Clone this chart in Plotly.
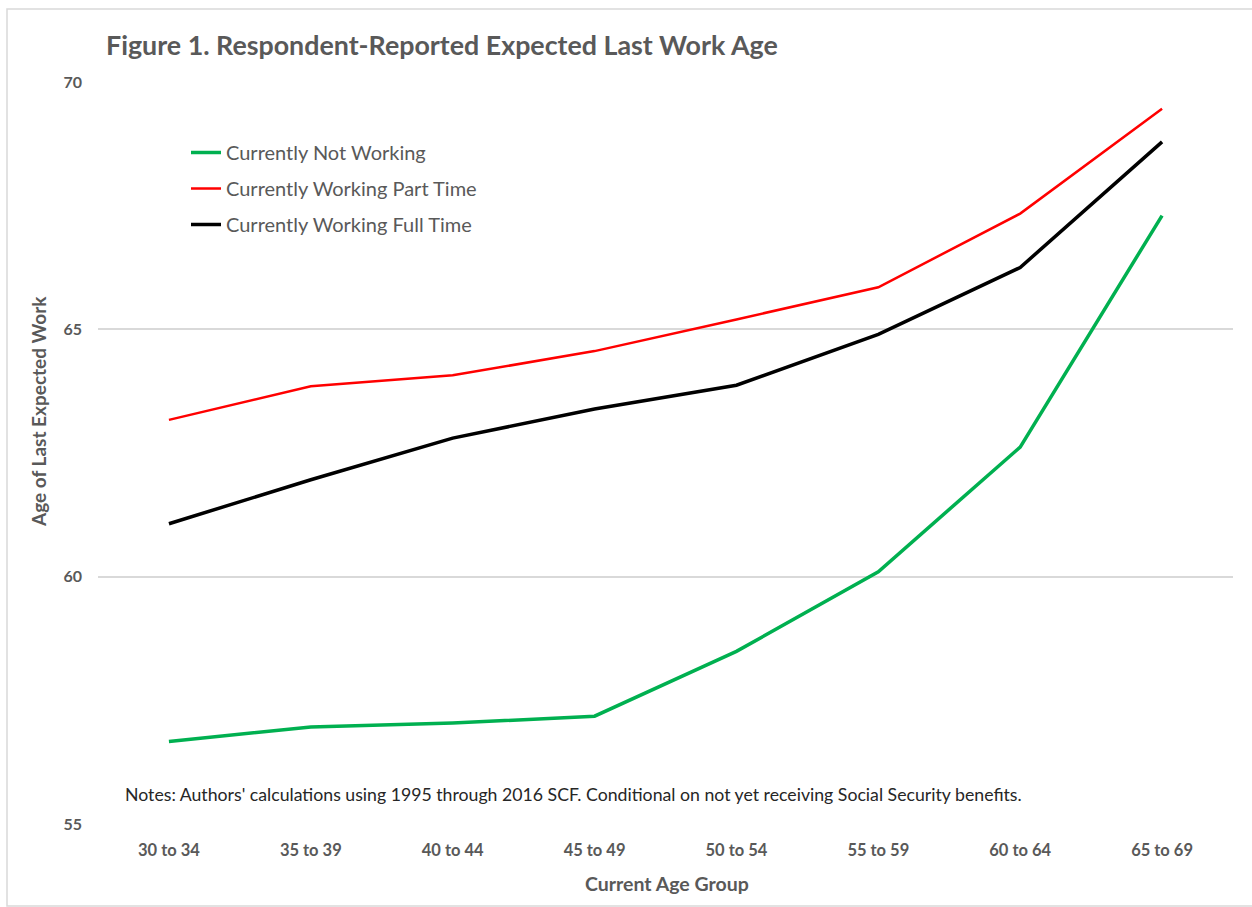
import plotly.graph_objects as go

categories = ["30 to 34", "35 to 39", "40 to 44", "45 to 49", "50 to 54", "55 to 59", "60 to 64", "65 to 69"]
not_working = [56.67, 56.96, 57.04, 57.18, 58.49, 60.10, 62.62, 67.30]
part_time = [63.17, 63.85, 64.07, 64.56, 65.20, 65.85, 67.34, 69.46]
full_time = [61.07, 61.96, 62.80, 63.39, 63.87, 64.90, 66.25, 68.79]
y_ticks = [55, 60, 65, 70]

FONT = "Lato"
GRAY = "#595959"

W, H = 1252, 907
L, R, T, B = 98, 1233, 82, 824

def px(x):
    return (x - L) / (R - L)

def py(y):
    return (B - y) / (B - T)

fig = go.Figure()
fig.add_trace(go.Scatter(x=categories, y=not_working, mode="lines", name="Currently Not Working",
                         line=dict(color="#00B050", width=3.5), legendgroup="a"))
fig.add_trace(go.Scatter(x=categories, y=part_time, mode="lines", name="Currently Working Part Time",
                         line=dict(color="#FF0000", width=2.5), legendgroup="b"))
fig.add_trace(go.Scatter(x=categories, y=full_time, mode="lines", name="Currently Working Full Time",
                         line=dict(color="#000000", width=3.5), legendgroup="c"))

fig.update_layout(
    width=W, height=H,
    margin=dict(l=L, r=W - R, t=T, b=H - B),
    paper_bgcolor="white", plot_bgcolor="white",
    font=dict(family=FONT, color=GRAY),
    showlegend=True,
    legend=dict(x=px(186), y=py(133), xanchor="left", yanchor="top",
                font=dict(family=FONT, size=20, color=GRAY),
                bgcolor="rgba(0,0,0,0)", tracegroupgap=7, itemwidth=30),
    xaxis=dict(type="category", categoryorder="array", categoryarray=categories,
               range=[-0.5, len(categories) - 0.5], showgrid=False, zeroline=False,
               showline=False, ticks="", tickfont=dict(family=FONT, size=16.5, color=GRAY, weight="bold"),
               ticklabelstandoff=14),
    yaxis=dict(range=[55, 70], tickvals=y_ticks, showgrid=True, gridcolor="#D9D9D9", gridwidth=1.5,
               zeroline=False, showline=False, ticks="",
               tickfont=dict(family=FONT, size=16, color=GRAY, weight="bold"), ticklabelstandoff=15),
    annotations=[
        dict(text="Figure 1. Respondent-Reported Expected Last Work Age", xref="paper", yref="paper",
             x=px(104), y=py(45), xanchor="left", yanchor="middle", showarrow=False,
             font=dict(family=FONT, size=26.8, color=GRAY, weight="bold")),
        dict(text="Notes: Authors' calculations using 1995 through 2016 SCF. Conditional on not yet receiving Social Security benefits.",
             xref="paper", yref="paper", x=px(123), y=py(794), xanchor="left", yanchor="middle",
             showarrow=False, font=dict(family=FONT, size=17.7, color="#262626")),
        dict(text="Current Age Group", xref="paper", yref="paper", x=px(667), y=py(883),
             xanchor="center", yanchor="middle", showarrow=False,
             font=dict(family=FONT, size=19.5, color=GRAY, weight="bold")),
        dict(text="Age of Last Expected Work", xref="paper", yref="paper", x=px(38), y=py(412),
             xanchor="center", yanchor="middle", showarrow=False, textangle=-90,
             font=dict(family=FONT, size=19, color=GRAY, weight="bold")),
    ],
    shapes=[
        dict(type="rect", xref="paper", yref="paper", x0=px(7), x1=px(1262), y0=py(906), y1=py(9),
             line=dict(color="#D9D9D9", width=1.5), fillcolor="rgba(0,0,0,0)", layer="below"),
    ],
)

fig.write_html("out.html")
